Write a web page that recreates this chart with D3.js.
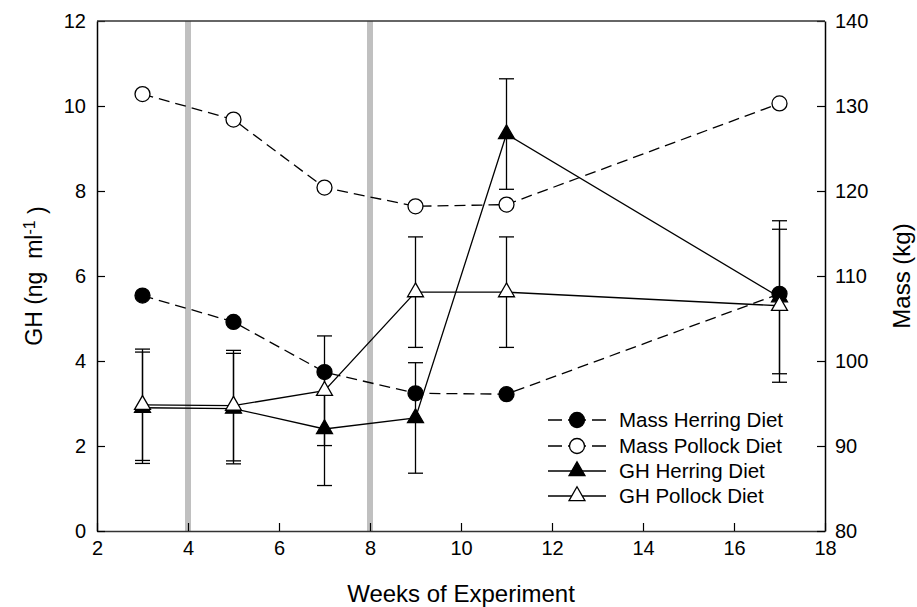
<!DOCTYPE html>
<html>
<head>
<meta charset="utf-8">
<script src="https://cdn.jsdelivr.net/npm/d3@7"></script>
<style>
  body { margin: 0; background: #fff; }
  text { font-family: Arial, "Liberation Sans", sans-serif; fill: #000; }
</style>
</head>
<body>
<div id="chart"></div>
<script>
// data
var weeks = [3, 5, 7, 9, 11, 17];
var massHerring = [107.7, 104.6, 98.7, 96.2, 96.1, 107.9];
var massPollock = [131.4, 128.4, 120.4, 118.2, 118.4, 130.3];
var ghHerring = [2.9, 2.88, 2.4, 2.66, 9.34, 5.5];
var ghHerringSE = [1.31, 1.3, 1.33, 1.3, 1.3, 1.8];
var ghPollock = [2.97, 2.95, 3.3, 5.62, 5.62, 5.3];
var ghPollockSE = [1.31, 1.3, 1.29, 1.3, 1.3, 1.8];
var feedChanges = [4, 8];
var xTicks = [2, 4, 6, 8, 10, 12, 14, 16, 18];
var leftTicks = [0, 2, 4, 6, 8, 10, 12];
var rightTicks = [80, 90, 100, 110, 120, 130, 140];
var legendLabels = ["Mass Herring Diet", "Mass Pollock Diet", "GH Herring Diet", "GH Pollock Diet"];

var W = 917, H = 607;
var plotL = 97, plotR = 825, plotT = 21, plotB = 531;

var svg = d3.select("#chart").append("svg")
    .attr("width", W)
    .attr("height", H);

var x = d3.scaleLinear().domain([2, 18]).range([plotL, plotR]);
var yL = d3.scaleLinear().domain([0, 12]).range([plotB, plotT]);
var yR = d3.scaleLinear().domain([80, 140]).range([plotB, plotT]);

// grey bars where the diet was switched
svg.selectAll("line.switch")
    .data(feedChanges)
    .enter().append("line")
    .attr("class", "switch")
    .attr("x1", function (d) { return x(d); })
    .attr("x2", function (d) { return x(d); })
    .attr("y1", plotT)
    .attr("y2", plotB)
    .style("stroke", "#c0c0c0")
    .style("stroke-width", 6);

function rows(vals, se) {
    return weeks.map(function (w, i) {
        return { w: w, v: vals[i], se: se ? se[i] : 0 };
    });
}

var dash = "11,6";

function drawLine(data, scale, dashed) {
    var line = d3.line()
        .x(function (d) { return x(d.w); })
        .y(function (d) { return scale(d.v); });
    svg.append("path")
        .datum(data)
        .attr("d", line)
        .style("fill", "none")
        .style("stroke", "#000")
        .style("stroke-width", 1.3)
        .style("stroke-dasharray", dashed ? dash : null);
}

function drawErrors(data) {
    var g = svg.append("g");
    var cap = 7.5;
    data.forEach(function (d) {
        var cx = x(d.w), y1 = yL(d.v + d.se), y2 = yL(d.v - d.se);
        g.append("line").attr("x1", cx).attr("x2", cx).attr("y1", y1).attr("y2", y2);
        g.append("line").attr("x1", cx - cap).attr("x2", cx + cap).attr("y1", y1).attr("y2", y1);
        g.append("line").attr("x1", cx - cap).attr("x2", cx + cap).attr("y1", y2).attr("y2", y2);
    });
    g.selectAll("line").style("stroke", "#000").style("stroke-width", 1.3);
}

var triangle = d3.symbol().type(d3.symbolTriangle).size(110);

function drawCircles(data, scale, fill) {
    svg.append("g").selectAll("circle")
        .data(data)
        .enter().append("circle")
        .attr("cx", function (d) { return x(d.w); })
        .attr("cy", function (d) { return scale(d.v); })
        .attr("r", 7.5)
        .style("fill", fill)
        .style("stroke", "#000")
        .style("stroke-width", 1.3);
}

function drawTriangles(data, fill) {
    svg.append("g").selectAll("path")
        .data(data)
        .enter().append("path")
        .attr("d", triangle)
        .attr("transform", function (d) {
            return "translate(" + x(d.w) + "," + yL(d.v) + ")";
        })
        .style("fill", fill)
        .style("stroke", "#000")
        .style("stroke-width", 1.3);
}

var mh = rows(massHerring), mp = rows(massPollock);
var gh = rows(ghHerring, ghHerringSE), gp = rows(ghPollock, ghPollockSE);

drawLine(mh, yR, true);
drawLine(mp, yR, true);
drawLine(gh, yL, false);
drawLine(gp, yL, false);
drawErrors(gh);
drawErrors(gp);
drawCircles(mh, yR, "#000");
drawCircles(mp, yR, "#fff");
drawTriangles(gh, "#000");
drawTriangles(gp, "#fff");

// axes, ticks pointing inward
var fs = "20px";

var xAxis = svg.append("g")
    .attr("transform", "translate(0," + plotB + ")")
    .call(d3.axisBottom(x).tickValues(xTicks).tickSizeInner(-8).tickSizeOuter(0).tickPadding(10));

var lAxis = svg.append("g")
    .attr("transform", "translate(" + plotL + ",0)")
    .call(d3.axisLeft(yL).tickValues(leftTicks).tickSizeInner(-8).tickSizeOuter(0).tickPadding(11));

var rAxis = svg.append("g")
    .attr("transform", "translate(" + plotR + ",0)")
    .call(d3.axisRight(yR).tickValues(rightTicks).tickSizeInner(-8).tickSizeOuter(0).tickPadding(10));

[xAxis, lAxis, rAxis].forEach(function (a) {
    a.select(".domain").style("stroke", "#000").style("stroke-width", 1.5);
    a.selectAll(".tick line").style("stroke", "#000").style("stroke-width", 1.2);
    a.selectAll("text").style("font-size", fs).style("font-family", "Arial, 'Liberation Sans', sans-serif").attr("fill", "#000");
});
xAxis.select(".domain").style("stroke", "#333");

svg.append("line")
    .attr("x1", plotL).attr("x2", plotR)
    .attr("y1", plotT).attr("y2", plotT)
    .style("stroke", "#333")
    .style("stroke-width", 1.5);

// titles
svg.append("text")
    .attr("x", (plotL + plotR) / 2)
    .attr("y", 602)
    .style("text-anchor", "middle")
    .style("font-size", "24px")
    .text("Weeks of Experiment");

var yTitle = svg.append("text")
    .attr("transform", "translate(42," + (plotT + plotB) / 2 + ") rotate(-90)")
    .style("text-anchor", "middle")
    .style("font-size", "23px")
    .style("white-space", "pre");
yTitle.append("tspan").text("GH (ng  ml");
yTitle.append("tspan").attr("dy", "-0.45em").style("font-size", "16px").text("-1");
yTitle.append("tspan").attr("dy", "0.45em").text(" )");

svg.append("text")
    .attr("transform", "translate(910," + (plotT + plotB) / 2 + ") rotate(-90)")
    .style("text-anchor", "middle")
    .style("font-size", "24px")
    .text("Mass (kg)");

// legend
var legendRowY = [420, 446, 471, 496];
var legendStyle = [
    { dashed: true, shape: "circle", fill: "#000" },
    { dashed: true, shape: "circle", fill: "#fff" },
    { dashed: false, shape: "triangle", fill: "#000" },
    { dashed: false, shape: "triangle", fill: "#fff" }
];

var legends = svg.selectAll("g.legend")
    .data(legendLabels)
    .enter().append("g")
    .attr("class", "legend")
    .attr("transform", function (d, i) {
        return "translate(0," + legendRowY[i] + ")";
    });

legends.append("line")
    .attr("x1", 548)
    .attr("x2", 606)
    .attr("y1", 0)
    .attr("y2", 0)
    .style("stroke", "#000")
    .style("stroke-width", 1.3)
    .style("stroke-dasharray", function (d, i) { return legendStyle[i].dashed ? "14,6,18,6,14" : null; });

legends.each(function (d, i) {
    var s = legendStyle[i];
    var g = d3.select(this);
    if (s.shape === "circle") {
        g.append("circle").attr("cx", 577).attr("cy", 0).attr("r", 7.5)
            .style("fill", s.fill).style("stroke", "#000").style("stroke-width", 1.3);
    } else {
        g.append("path").attr("d", triangle).attr("transform", "translate(577,0)")
            .style("fill", s.fill).style("stroke", "#000").style("stroke-width", 1.3);
    }
});

legends.append("text")
    .attr("x", 619)
    .attr("y", 0)
    .attr("dy", ".35em")
    .style("font-size", "20.5px")
    .text(function (d) { return d; });
</script>
</body>
</html>
